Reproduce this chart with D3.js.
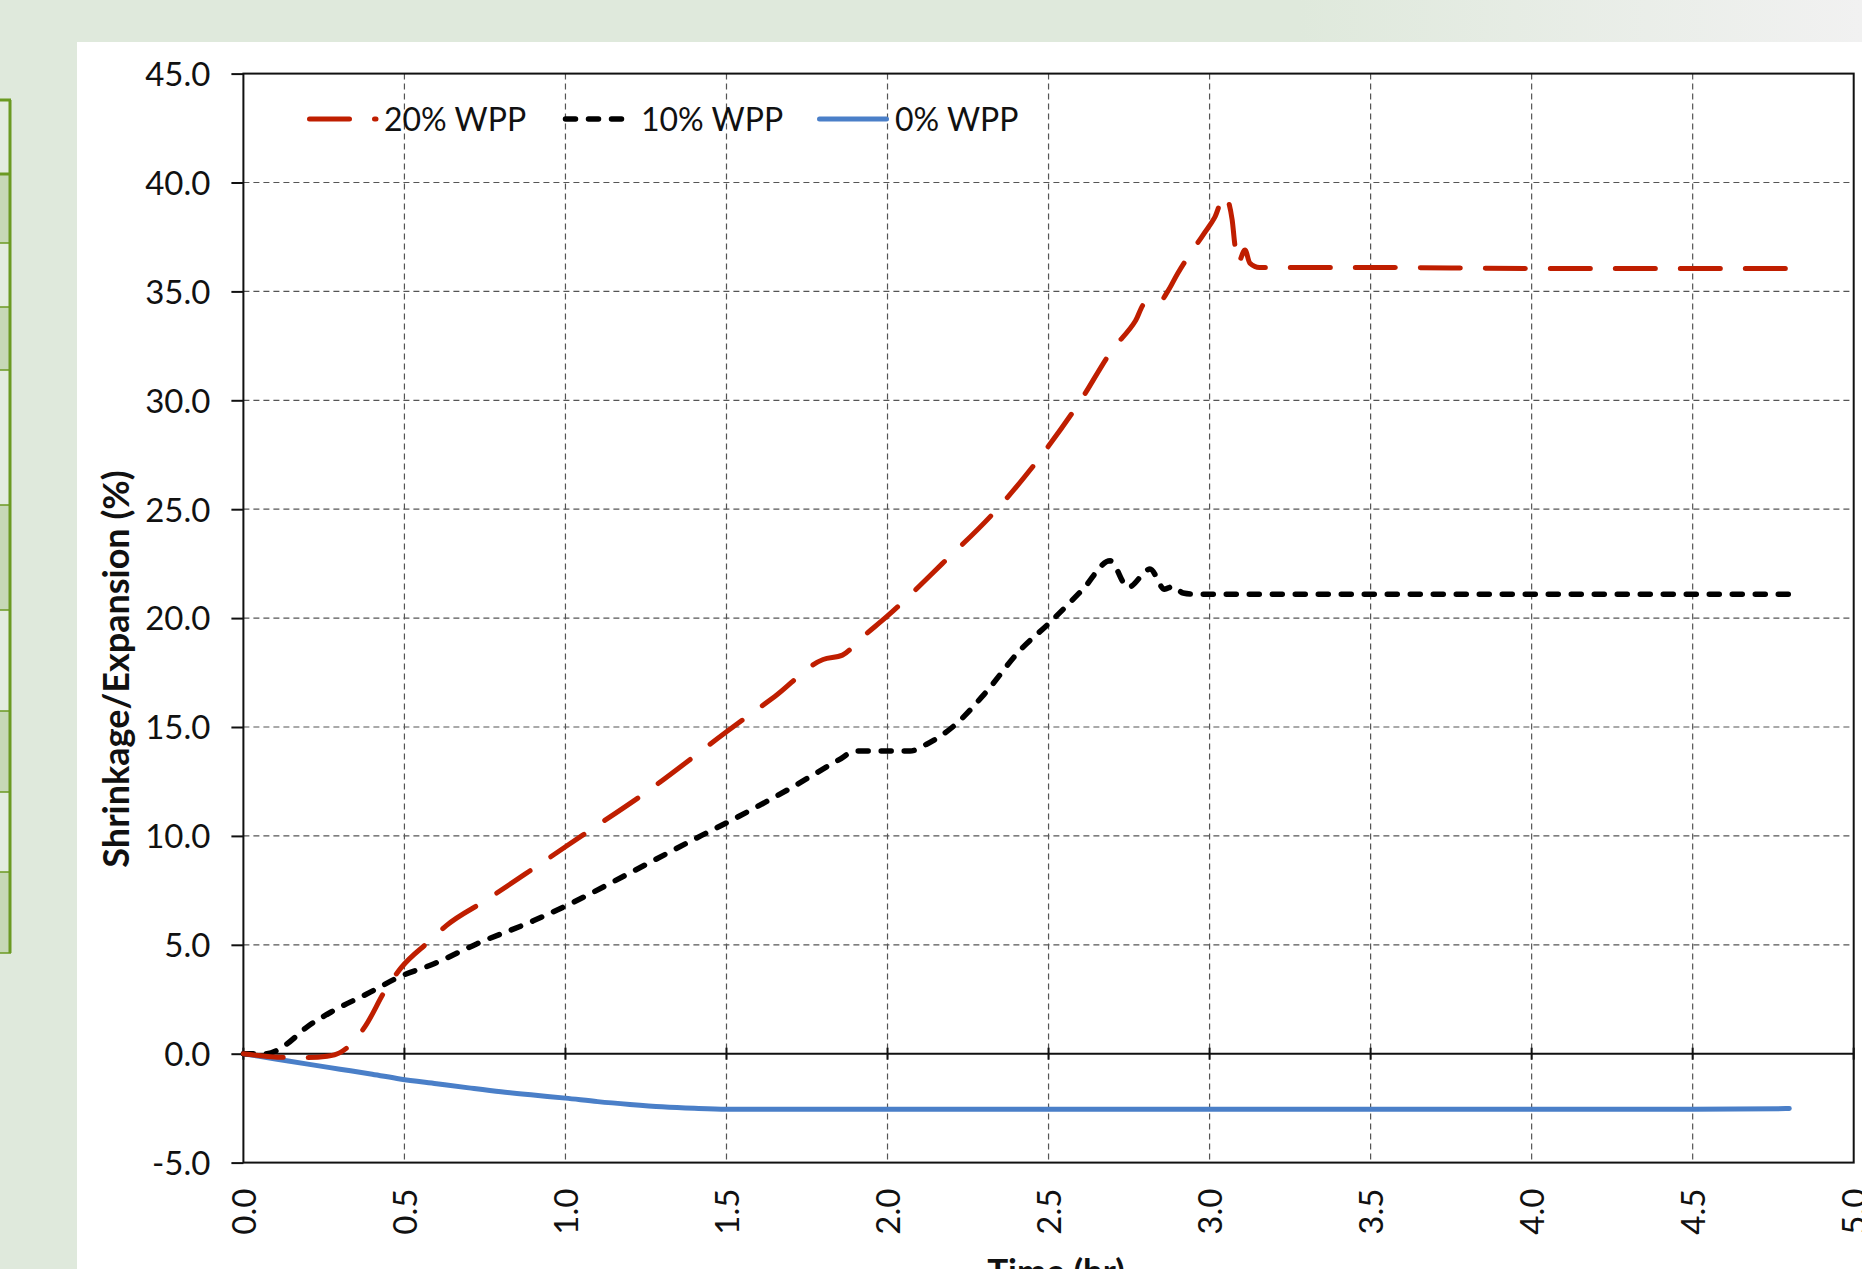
<!DOCTYPE html>
<html>
<head>
<meta charset="utf-8">
<script src="https://cdn.jsdelivr.net/npm/d3@7"></script>
<style>
  html, body { margin: 0; padding: 0; overflow: hidden; background: #dfe9dc; }
  svg { display: block; }
</style>
</head>
<body>
<svg id="chart" width="1862" height="1269"></svg>
<script>
// axis ticks
const xTicks = [0, 0.5, 1, 1.5, 2, 2.5, 3, 3.5, 4, 4.5, 5];
const yTicks = [-5, 0, 5, 10, 15, 20, 25, 30, 35, 40, 45];
const seriesNames = ['20% WPP', '10% WPP', '0% WPP'];

// 20% WPP (red, long dash)
const time20 = [0, 0.13, 0.2, 0.26, 0.3, 0.335, 0.38, 0.44, 0.49, 0.58, 0.63, 0.75, 0.9, 1.05, 1.25, 1.52, 1.65, 1.8, 1.86, 1.92, 2.0, 2.17, 2.34, 2.5, 2.6, 2.697, 2.77, 2.8, 2.84, 2.87, 2.9, 2.98, 3.016, 3.047, 3.07, 3.078, 3.088, 3.11, 3.125, 3.155, 3.5, 4.0, 4.5, 4.8];
const shrink20 = [0, -0.17, -0.18, -0.12, 0.05, 0.45, 1.3, 2.9, 3.95, 5.2, 5.88, 7.02, 8.5, 10.0, 12.0, 15.0, 16.4, 18.1, 18.3, 19.1, 20.1, 22.5, 25.0, 27.9, 30.0, 32.3, 33.65, 34.45, 34.45, 35.0, 35.8, 37.6, 38.4, 39.4, 38.3, 37.2, 36.3, 36.9, 36.3, 36.1, 36.1, 36.05, 36.05, 36.05];

// 10% WPP (black, short dash)
const time10 = [0, 0.072, 0.134, 0.196, 0.279, 0.383, 0.486, 0.59, 0.724, 0.9, 1.024, 1.2, 1.42, 1.5, 1.7, 1.85, 1.9, 2.07, 2.12, 2.21, 2.3, 2.41, 2.504, 2.607, 2.691, 2.747, 2.815, 2.86, 2.886, 2.918, 2.95, 3.5, 4.0, 4.8];
const shrink10 = [0, 0, 0.44, 1.21, 1.97, 2.74, 3.54, 4.12, 5.04, 6.1, 6.95, 8.3, 10.0, 10.6, 12.2, 13.5, 13.9, 13.9, 14.2, 15.1, 16.5, 18.5, 19.8, 21.33, 22.63, 21.41, 22.25, 21.33, 21.45, 21.15, 21.1, 21.1, 21.1, 21.1];

// 0% WPP (blue, solid)
const time0 = [0, 0.1, 0.2, 0.3, 0.4, 0.486, 0.6, 0.7, 0.8, 0.9, 1.0, 1.1, 1.2, 1.3, 1.4, 1.5, 2.0, 3.0, 4.0, 4.5, 4.8];
const shrink0 = [0, -0.24, -0.48, -0.71, -0.94, -1.16, -1.38, -1.57, -1.75, -1.9, -2.04, -2.2, -2.33, -2.44, -2.51, -2.55, -2.55, -2.55, -2.55, -2.55, -2.52];

// left decorative table rows (screen background)
const tableRows = [100, 174, 243, 307, 370, 505, 610, 711, 792, 872, 953];

const svg = d3.select('#chart');
const W = 1862, H = 1269;

// page background
const defs = svg.append('defs');
const grad = defs.append('linearGradient').attr('id', 'topfade')
  .attr('x1', '0%').attr('x2', '100%').attr('y1', '0%').attr('y2', '0%');
grad.append('stop').attr('offset', '0%').attr('stop-color', '#dfe9dc');
grad.append('stop').attr('offset', '100%').attr('stop-color', '#f1f1f1');

svg.append('rect').attr('width', W).attr('height', H).attr('fill', '#dfe9dc');
svg.append('rect').attr('x', 1300).attr('y', 0).attr('width', W - 1300).attr('height', 42)
  .attr('fill', 'url(#topfade)');
svg.append('rect').attr('x', 77).attr('y', 42).attr('width', W - 77).attr('height', H - 42)
  .attr('fill', '#ffffff');

// table strip on the left
const table = svg.append('g');
for (let i = 0; i < tableRows.length - 1; i++) {
  table.append('rect')
    .attr('x', 0).attr('y', tableRows[i])
    .attr('width', 10).attr('height', tableRows[i + 1] - tableRows[i])
    .attr('fill', i % 2 === 1 ? '#c6d8b6' : '#e3ece0');
}
tableRows.forEach((r, i) => {
  table.append('line')
    .attr('x1', 0).attr('x2', 11).attr('y1', r).attr('y2', r)
    .attr('stroke', '#6b9a22').attr('stroke-width', i < 2 ? 3 : 1.5);
});
table.append('line')
  .attr('x1', 10).attr('x2', 10).attr('y1', tableRows[0]).attr('y2', tableRows[tableRows.length - 1])
  .attr('stroke', '#6b9a22').attr('stroke-width', 3);

// scales
const x = d3.scaleLinear().domain([0, 5]).range([243.4, 1853.7]);
const y = d3.scaleLinear().domain([-5, 45]).range([1162.6, 73.6]);

const FONT = 'Lato, "Open Sans", sans-serif';

// grid
const grid = svg.append('g');
grid.selectAll('.vg').data(xTicks.filter(d => d > 0 && d < 5)).enter().append('line')
  .attr('x1', d => x(d)).attr('x2', d => x(d))
  .attr('y1', y(45)).attr('y2', y(-5))
  .attr('stroke', '#555').attr('stroke-width', 1.2).attr('stroke-dasharray', '6,4');
grid.selectAll('.hg').data(yTicks.filter(d => d > -5 && d < 45 && d !== 0)).enter().append('line')
  .attr('x1', x(0)).attr('x2', x(5))
  .attr('y1', d => y(d)).attr('y2', d => y(d))
  .attr('stroke', '#555').attr('stroke-width', 1.2).attr('stroke-dasharray', '6,4');

// frame + zero line
svg.append('rect')
  .attr('x', x(0)).attr('y', y(45))
  .attr('width', x(5) - x(0)).attr('height', y(-5) - y(45))
  .attr('fill', 'none').attr('stroke', '#111').attr('stroke-width', 2);
svg.append('line')
  .attr('x1', x(0)).attr('x2', x(5)).attr('y1', y(0)).attr('y2', y(0))
  .attr('stroke', '#111').attr('stroke-width', 2);

// y axis
const yAxis = svg.append('g')
  .attr('transform', `translate(${x(0)},0)`)
  .call(d3.axisLeft(y).tickValues(yTicks).tickSize(12).tickPadding(21)
    .tickFormat(d => d.toFixed(1)));
yAxis.select('.domain').remove();
yAxis.selectAll('line').attr('stroke', '#111').attr('stroke-width', 2);
yAxis.selectAll('text')
  .attr('dy', '0.36em')
  .style('font-family', FONT).style('font-size', '33px').attr('fill', '#111');

// x axis: cross ticks on the zero line, labels below the plot
svg.append('g').selectAll('line').data(xTicks).enter().append('line')
  .attr('x1', d => x(d)).attr('x2', d => x(d))
  .attr('y1', y(0) - 6).attr('y2', y(0) + 6)
  .attr('stroke', '#111').attr('stroke-width', 2);

const xAxis = svg.append('g')
  .attr('transform', `translate(0,${y(-5)})`)
  .call(d3.axisBottom(x).tickValues(xTicks).tickSize(0).tickFormat(d => d.toFixed(1)));
xAxis.select('.domain').remove();
xAxis.selectAll('text')
  .attr('transform', 'rotate(-90)')
  .attr('x', -26).attr('y', 0).attr('dy', '0.36em')
  .style('text-anchor', 'end')
  .style('font-family', FONT).style('font-size', '33px').attr('fill', '#111');

// axis titles
svg.append('text')
  .attr('transform', 'translate(129,669) rotate(-90)')
  .attr('text-anchor', 'middle')
  .style('font-family', FONT).style('font-size', '36px').style('font-weight', 'bold')
  .attr('fill', '#111')
  .text('Shrinkage/Expansion (%)');
svg.append('text')
  .attr('x', 1056).attr('y', 1284)
  .attr('text-anchor', 'middle')
  .style('font-family', FONT).style('font-size', '35px').style('font-weight', 'bold')
  .attr('fill', '#111')
  .text('Time (hr)');

// series
const series = [
  { name: seriesNames[0], t: time20, v: shrink20, color: '#bf1e00', dash: '40,25', width: 5 },
  { name: seriesNames[1], t: time10, v: shrink10, color: '#000000', dash: '10,13', width: 5.5 },
  { name: seriesNames[2], t: time0, v: shrink0, color: '#4a7fc8', dash: null, width: 5 }
];

const line = d3.line()
  .x(d => x(d[0]))
  .y(d => y(d[1]))
  .curve(d3.curveMonotoneX);

// draw blue first so dashed lines sit on top
[series[2], series[1], series[0]].forEach(s => {
  svg.append('path')
    .datum(s.t.map((t, i) => [t, s.v[i]]))
    .attr('fill', 'none')
    .attr('stroke', s.color)
    .attr('stroke-width', s.width)
    .attr('stroke-linecap', 'round')
    .attr('stroke-linejoin', 'round')
    .attr('stroke-dasharray', s.dash)
    .attr('d', line);
});

// legend
const legendItems = [
  { s: series[0], x1: 309.5, x2: 376, tx: 384 },
  { s: series[1], x1: 565.5, x2: 621.5, tx: 641 },
  { s: series[2], x1: 819.5, x2: 886.5, tx: 895 }
];
const legend = svg.append('g');
legendItems.forEach(it => {
  legend.append('line')
    .attr('x1', it.x1).attr('x2', it.x2).attr('y1', 119).attr('y2', 119)
    .attr('stroke', it.s.color).attr('stroke-width', it.s.width)
    .attr('stroke-linecap', 'round')
    .attr('stroke-dasharray', it.s.dash);
  legend.append('text')
    .attr('x', it.tx).attr('y', 131)
    .style('font-family', FONT).style('font-size', '32px')
    .attr('fill', '#111')
    .text(it.s.name);
});
</script>
</body>
</html>
